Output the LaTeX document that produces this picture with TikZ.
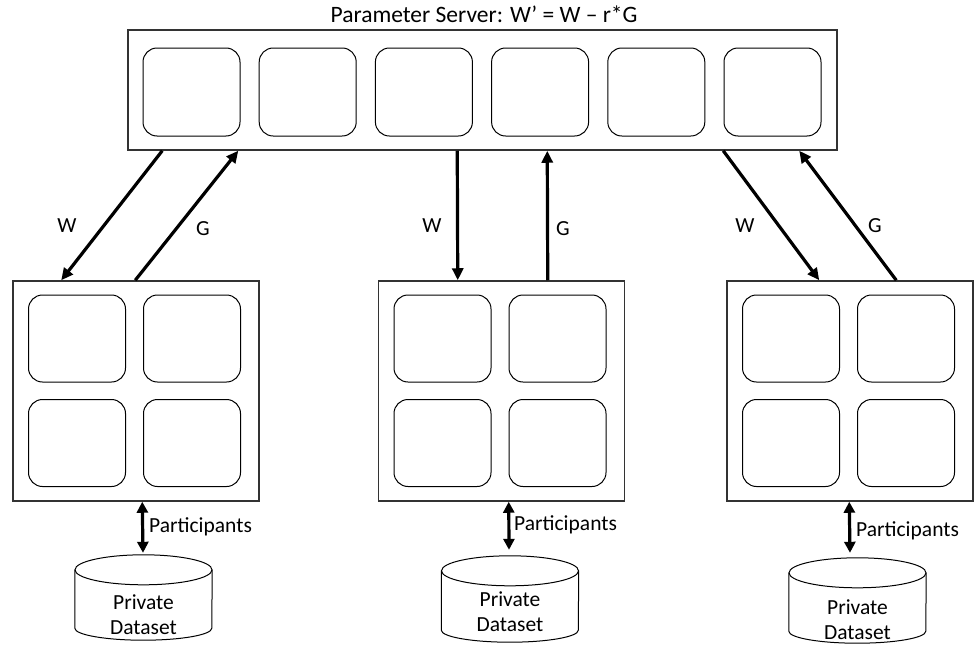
\documentclass[tikz,border=0pt]{standalone}
\usepackage{fontspec}
\setmainfont{Carlito}
\usetikzlibrary{arrows.meta,calc}
\tikzset{
  frame/.style={draw=black!80, line width=1.5pt, fill=white, inner sep=0pt},
  cell/.style={draw=black, line width=1pt, rounded corners=14pt, minimum width=97pt, minimum height=87pt, inner sep=0pt},
  flow/.style={line width=3.2pt, -{Triangle[length=12pt,width=11pt]}},
  dbflow/.style={line width=3.2pt, {Triangle[length=11pt,width=11pt]}-{Triangle[length=11pt,width=11pt]}},
  lbl/.style={font=\fontsize{21.5}{25}\selectfont, inner sep=0pt},
  dbbox/.style={minimum width=137pt, inner sep=0pt},
  dbline/.style={draw=black, line width=1pt},
  dbtext/.style={font=\fontsize{21.5}{25}\selectfont, align=center, inner sep=0pt}
}
\begin{document}
\begin{tikzpicture}[x=1pt, y=-1pt]
\useasboundingbox (0,0) rectangle (975,645);

% parameter server
\node[lbl, font=\fontsize{23.5}{27}\selectfont] (title) at (484,14) {Parameter Server: W’ = W – r*G};
\node[frame, minimum width=709pt, minimum height=120pt] (ps) at (482.5,90) {};
\foreach \i in {0,...,5}
  \node[cell, minimum height=88pt] (ps\i) at ({191.5+116.2*\i},92) {};

% workers
\foreach \n/\x in {a/136, b/501.5, c/850} {
  \node[frame, minimum width=246pt, minimum height=220pt] (\n) at (\x,391) {};
  \node[cell] (\n11) at ($(\n.center)+(-59,-52.5)$) {};
  \node[cell] (\n12) at ($(\n.center)+(56,-52.5)$) {};
  \node[cell] (\n21) at ($(\n.center)+(-59,52)$) {};
  \node[cell] (\n22) at ($(\n.center)+(56,52)$) {};
}

% W down, G up
\draw[flow] ([xshift=35pt]ps.south west) -- ([xshift=49pt]a.north west);
\draw[flow] ([xshift=123pt]a.north west) -- ([xshift=111pt]ps.south west);
\draw[flow] ([xshift=330pt]ps.south west) -- ([xshift=80pt]b.north west);
\draw[flow] ([xshift=170pt]b.north west) -- ([xshift=420pt]ps.south west);
\draw[flow] ([xshift=596pt]ps.south west) -- ([xshift=93pt]c.north west);
\draw[flow] ([xshift=170pt]c.north west) -- ([xshift=672pt]ps.south west);

\node[lbl] (wa) at (67,226) {W};
\node[lbl] (ga) at (203,229) {G};
\node[lbl] (wb) at (432,226) {W};
\node[lbl] (gb) at (563,229) {G};
\node[lbl] (wc) at (745,226) {W};
\node[lbl] (gc) at (875,226) {G};

% private datasets
\foreach \n/\x/\top/\h/\t in {da/143.5/555/85/48, db/510/556/86/44, dc/857.5/558/85/50} {
  \node[dbbox, minimum height=\h pt] (\n) at (\x,{\top+\h/2}) {};
  \draw[dbline] ([yshift=-15pt]\n.north) ellipse [x radius=68.5pt, y radius=15pt];
  \draw[dbline] ([yshift=-15pt]\n.north west) -- ([yshift=12pt]\n.south west)
     arc [start angle=180, end angle=360, x radius=68.5pt, y radius=12pt]
     -- ([yshift=-15pt]\n.north east);
  \node[dbtext] (\n txt) at ($(\n.north)+(0,{\t+12})$) {Private\\Dataset};
}

\draw[dbflow] ([xshift=130pt]a.south west) -- ([xshift=-0.5pt,yshift=2pt]da.north);
\draw[dbflow] ([xshift=131pt]b.south west) -- ([xshift=-1pt,yshift=6pt]db.north);
\draw[dbflow] ([xshift=123pt]c.south west) -- ([xshift=-7.5pt,yshift=5pt]dc.north);

\node[lbl, anchor=west] (pa) at (149,527) {Participants};
\node[lbl, anchor=west] (pb) at (514,525) {Participants};
\node[lbl, anchor=west] (pc) at (856,531) {Participants};
\end{tikzpicture}
\end{document}
